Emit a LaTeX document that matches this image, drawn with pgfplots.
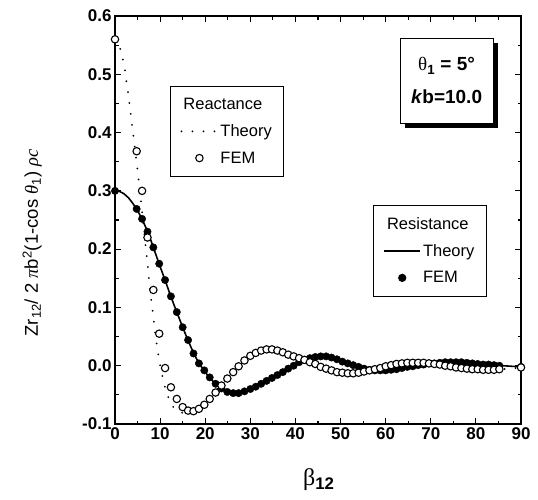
\documentclass[border=0pt]{standalone}
\usepackage{pgfplots}
\usepackage{pgfplotstable}
\pgfplotsset{compat=1.18}
\usepackage{fontspec}
\setmainfont{Liberation Sans}
\newfontfamily\symf{Liberation Serif}
\usetikzlibrary{shadows}

\pgfplotstableread{
x y
0 0.560
1 0.548
2 0.518
3 0.462
4 0.400
5 0.335
6 0.265
7 0.190
8 0.115
9 0.050
10 0.000
11 -0.035
12 -0.058
13 -0.072
14 -0.079
15 -0.081
16 -0.080
17 -0.077
18 -0.072
19 -0.066
20 -0.062
21 -0.054
22 -0.046
23 -0.037
24 -0.028
25 -0.019
26 -0.010
27 -0.002
28 0.006
29 0.013
30 0.018
32 0.025
34 0.028
36 0.026
38 0.020
40 0.015
42 0.010
44 0.004
46 -0.003
48 -0.008
50 -0.012
52 -0.013
54 -0.012
56 -0.008
58 -0.004
60 -0.001
62 0.002
64 0.004
66 0.005
68 0.005
70 0.004
72 0.002
74 -0.001
76 -0.003
78 -0.005
80 -0.006
82 -0.007
84 -0.007
86 -0.006
88 -0.005
90 -0.003
}\reacttheory

\pgfplotstableread{
x y
0 0.560
4.8 0.368
6.0 0.300
7.2 0.220
8.5 0.130
9.8 0.055
11.1 -0.004
12.4 -0.037
13.7 -0.057
15.0 -0.071
16.2 -0.077
17.4 -0.078
18.6 -0.074
19.8 -0.067
21.0 -0.057
22.3 -0.046
23.6 -0.034
24.9 -0.022
26.2 -0.011
27.4 -0.001
28.7 0.009
30.0 0.017
31.2 0.022
32.4 0.026
33.6 0.028
34.8 0.028
36.0 0.026
37.2 0.023
38.4 0.019
39.6 0.016
40.8 0.013
42.0 0.010
43.2 0.006
44.4 0.003
45.6 -0.002
46.8 -0.005
48.0 -0.008
49.2 -0.011
50.4 -0.012
51.6 -0.013
52.8 -0.013
54.0 -0.012
55.2 -0.010
56.4 -0.008
57.6 -0.006
58.8 -0.004
60.0 -0.001
61.2 0.001
62.4 0.003
63.6 0.004
64.8 0.005
66.0 0.005
67.2 0.005
68.4 0.005
69.6 0.004
70.8 0.003
72.0 0.002
73.2 0.000
74.4 -0.001
75.6 -0.003
76.8 -0.004
78.0 -0.005
79.2 -0.006
80.4 -0.006
81.6 -0.007
82.8 -0.007
84.0 -0.007
85.2 -0.006
90 -0.003
}\reactfem

\pgfplotstableread{
x y
0 0.300
1 0.299
2 0.295
3 0.288
4 0.278
5 0.266
6 0.252
7 0.234
8 0.214
9 0.192
10 0.170
11 0.149
12 0.127
13 0.106
14 0.086
15 0.066
16 0.047
17 0.029
18 0.013
19 0.000
20 -0.011
21 -0.021
22 -0.029
23 -0.036
24 -0.041
25 -0.045
26 -0.047
27 -0.047
28 -0.046
30 -0.040
32 -0.032
34 -0.024
36 -0.016
38 -0.007
40 0.002
42 0.010
44 0.015
46 0.016
48 0.014
50 0.008
52 0.003
54 -0.002
56 -0.006
58 -0.008
60 -0.008
62 -0.006
64 -0.003
66 -0.001
68 0.002
70 0.004
72 0.005
74 0.006
76 0.006
78 0.005
80 0.004
82 0.002
84 0.001
86 0.000
88 -0.001
90 -0.002
}\resisttheory

\pgfplotstableread{
x y
0 0.300
4.8 0.269
6.0 0.252
7.2 0.230
8.5 0.203
9.8 0.175
11.1 0.147
12.4 0.119
13.7 0.092
15.0 0.066
16.2 0.044
17.4 0.021
18.6 0.004
19.8 -0.008
21.0 -0.020
22.3 -0.031
23.6 -0.039
24.9 -0.045
26.2 -0.047
27.4 -0.047
28.7 -0.044
30.0 -0.040
31.2 -0.036
32.4 -0.031
33.6 -0.026
34.8 -0.021
36.0 -0.016
37.2 -0.011
38.4 -0.005
39.6 0.000
40.8 0.006
42.0 0.010
43.2 0.013
44.4 0.015
45.6 0.016
46.8 0.016
48.0 0.014
49.2 0.011
50.4 0.007
51.6 0.004
52.8 0.001
54.0 -0.002
55.2 -0.005
56.4 -0.007
57.6 -0.008
58.8 -0.008
60.0 -0.008
61.2 -0.007
62.4 -0.006
63.6 -0.004
64.8 -0.002
66.0 -0.001
67.2 0.001
68.4 0.002
69.6 0.004
70.8 0.004
72.0 0.005
73.2 0.006
74.4 0.006
75.6 0.006
76.8 0.006
78.0 0.005
79.2 0.004
80.4 0.003
81.6 0.002
82.8 0.002
84.0 0.001
85.2 0.000
90 -0.002
}\resistfem

\pgfplotsset{
  mylegimg/.style={legend image code/.code={\draw[mark repeat=2,mark phase=2,##1] plot coordinates {(0pt,0pt) (18pt,0pt) (36pt,0pt)};}},
  base/.style={scale only axis, width=406pt, height=408pt, at={(115pt,75pt)}, anchor=south west,
    xmin=0, xmax=90, ymin=-0.1, ymax=0.6},
  leg/.style={legend style={draw=black, line width=0.8pt, fill=white,
    font=\fontsize{16.5}{19}\selectfont, cells={anchor=west}, row sep=9.5pt,
    inner xsep=10pt, inner ysep=10pt}},
}

\begin{document}
\begin{tikzpicture}
\path[use as bounding box] (0,0) rectangle (538pt,499pt);
\begin{axis}[base, leg,
  xtick={0,10,20,30,40,50,60,70,80,90},
  minor xtick={5,15,25,35,45,55,65,75,85},
  ytick={-0.1,0,0.1,0.2,0.3,0.4,0.5,0.6},
  minor ytick={-0.05,0.05,0.15,0.25,0.35,0.45,0.55},
  tick align=inside, major tick length=6pt, minor tick length=3.5pt,
  tick style={line width=1.1pt, black},
  axis line style={line width=1.3pt},
  /pgf/number format/assume math mode=true,
  ticklabel style={font=\fontsize{17}{17}\selectfont\bfseries},
  yticklabel style={/pgf/number format/.cd, fixed, fixed zerofill, precision=1},
  ylabel={Zr\textsubscript{12}/ 2 {\symf\itshape π}b\textsuperscript{2}(1-cos {\symf\itshape θ}\textsubscript{1}) {\symf\itshape ρc}},
  ylabel style={at={(axis description cs:-0.204,0.444)}, anchor=center, font=\fontsize{18.5}{22}\selectfont},
  xlabel={{\symf β}\textsubscript{\bfseries 12}},
  xlabel style={at={(axis description cs:0.502,-0.137)}, anchor=center, font=\fontsize{24}{26}\selectfont},
  legend style={at={(axis cs:57.2,0.2755)}, anchor=north west},
]
\addlegendimage{empty legend}
\addlegendentry{\hspace*{-36pt}Resistance}
\addplot[black, line width=1.6pt, mylegimg] table {\resisttheory};
\addlegendentry{Theory}
\addplot[only marks, mark=*, mark size=3.7pt, black, mark options={fill=black}, mylegimg] table {\resistfem};
\addlegendentry{FEM}
\end{axis}
\begin{axis}[base, leg, hide axis,
  legend style={at={(axis cs:12.2,0.48)}, anchor=north west},
]
\addlegendimage{empty legend}
\addlegendentry{\hspace*{-37pt}Reactance}
\addplot[black, line width=2pt, line cap=round, dash pattern=on 0pt off 11pt, mylegimg] table {\reacttheory};
\addlegendentry{Theory}
\addplot[only marks, mark=*, mark size=3.7pt, black, mark options={fill=white, draw=black, line width=1.1pt}, mylegimg] table {\reactfem};
\addlegendentry{FEM}
\node[draw=black, line width=0.8pt, fill=white, minimum width=93pt, minimum height=85pt, align=center,
  font=\fontsize{19}{33}\selectfont\bfseries,
  drop shadow={shadow xshift=5pt, shadow yshift=-5pt, fill=black, opacity=1}]
  at (axis cs:73.5,0.4886) {{\symf\mdseries θ}\textsubscript{1} = 5°\\\textit{k}b=10.0};
\end{axis}
\end{tikzpicture}
\end{document}
